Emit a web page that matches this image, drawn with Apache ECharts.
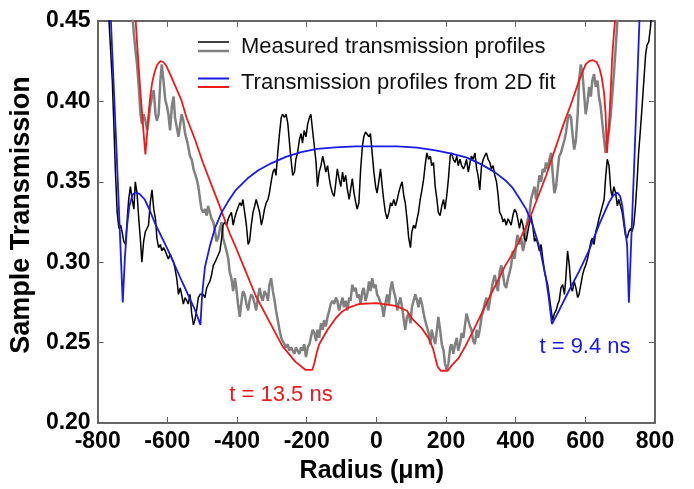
<!DOCTYPE html>
<html>
<head>
<meta charset="utf-8">
<script src="https://cdn.jsdelivr.net/npm/echarts@6/dist/echarts.min.js"></script>
<style>
html,body{margin:0;padding:0;background:#fff;}
#chart{width:694px;height:489px;}
</style>
</head>
<body>
<div id="chart"></div>
<script>
// ---- Data (x in µm, y = sample transmission) ----
const xMin = -800, xMax = 800, xStep = 200;
const yMin = 0.20, yMax = 0.45, yStep = 0.05;

const blackMeasured = [
[-770,0.46],[-758,0.413],[-753,0.382],[-749,0.356],[-744,0.331],[-739,0.321],[-734,0.323],[-730,0.319],[-725,0.313],[-720,0.311],[-715,0.327],[-711,0.339],[-706,0.347],[-701,0.339],[-696,0.333],[-692,0.350],[-687,0.343],[-682,0.327],[-677,0.313],[-673,0.300],[-668,0.313],[-663,0.319],[-658,0.319],[-654,0.323],[-649,0.337],[-644,0.345],[-639,0.333],[-634,0.327],[-630,0.315],[-625,0.309],[-620,0.311],[-616,0.307],[-611,0.309],[-606,0.307],[-601,0.308],[-597,0.302],[-592,0.305],[-587,0.305],[-582,0.300],[-578,0.296],[-573,0.290],[-568,0.280],[-563,0.284],[-559,0.280],[-554,0.274],[-549,0.278],[-544,0.276],[-540,0.274],[-535,0.280],[-530,0.268],[-525,0.261],[-521,0.264],[-516,0.270],[-511,0.278],[-506,0.280],[-502,0.281],[-497,0.280],[-492,0.278],[-487,0.284],[-483,0.286],[-478,0.288],[-473,0.292],[-468,0.298],[-463,0.300],[-459,0.302],[-454,0.301],[-449,0.307],[-444,0.315],[-440,0.323],[-435,0.325],[-430,0.323],[-425,0.327],[-421,0.329],[-416,0.331],[-411,0.323],
[-406,0.328],[-402,0.331],[-397,0.334],[-392,0.337],[-387,0.335],[-383,0.339],[-378,0.331],[-373,0.323],[-368,0.311],[-364,0.313],[-359,0.323],[-354,0.331],[-349,0.335],[-345,0.339],[-340,0.339],[-335,0.331],[-330,0.323],[-326,0.327],[-321,0.333],[-316,0.337],[-311,0.339],[-307,0.343],[-302,0.350],[-297,0.356],[-292,0.358],[-288,0.354],[-283,0.368],[-278,0.380],[-273,0.390],[-269,0.392],[-264,0.390],[-259,0.392],[-254,0.386],[-250,0.376],[-245,0.364],[-240,0.354],[-235,0.356],[-231,0.364],[-226,0.368],[-221,0.376],[-216,0.380],[-212,0.374],[-207,0.382],[-202,0.378],[-197,0.386],[-192,0.390],[-188,0.392],[-183,0.382],[-178,0.372],[-173,0.362],[-169,0.347],[-164,0.356],[-159,0.360],[-154,0.366],[-150,0.362],[-145,0.356],[-140,0.360],[-135,0.352],[-131,0.347],[-126,0.343],[-121,0.341],[-116,0.350],[-112,0.358],[-107,0.352],[-102,0.347],[-97,0.356],[-93,0.350],[-88,0.354],[-83,0.345],[-78,0.339],[-74,0.345],[-69,0.352],[-64,0.343],[-59,0.337],[-55,0.333],[-50,0.337],[-45,0.358],[-40,0.372],[-36,0.378],[-31,0.381],[-26,0.380],[-21,0.378],[-17,0.380],[-12,0.368],[-7,0.356],[-2,0.347],[2,0.343],[7,0.350],
[12,0.358],[17,0.347],[21,0.339],[26,0.331],[31,0.327],[36,0.331],[41,0.337],[45,0.335],[50,0.339],[55,0.335],[60,0.339],[64,0.343],[69,0.347],[74,0.350],[79,0.341],[83,0.337],[88,0.327],[93,0.315],[98,0.309],[102,0.319],[107,0.323],[112,0.321],[117,0.327],[121,0.331],[126,0.339],[131,0.345],[136,0.352],[140,0.360],[145,0.368],[150,0.364],[155,0.366],[159,0.360],[164,0.362],[169,0.347],[174,0.339],[178,0.331],[183,0.329],[188,0.335],[193,0.339],[197,0.333],[202,0.341],[207,0.352],[212,0.366],[216,0.368],[221,0.364],[226,0.362],[231,0.366],[235,0.360],[240,0.364],[245,0.360],[250,0.358],[254,0.360],[259,0.364],[264,0.356],[269,0.362],[273,0.366],[278,0.364],[283,0.368],[288,0.358],[292,0.354],[297,0.345],[302,0.360],[307,0.364],[311,0.366],[316,0.368],[321,0.364],[326,0.362],[330,0.358],[335,0.360],[340,0.354],[345,0.350],[349,0.343],[354,0.331],[359,0.329],[364,0.325],[368,0.327],[373,0.323],[378,0.327],[383,0.325],[387,0.323],[392,0.329],[397,0.333],[402,0.331],[406,0.327],
[411,0.321],[416,0.327],[421,0.323],[425,0.315],[430,0.313],[435,0.319],[440,0.325],[444,0.329],[449,0.323],[454,0.313],[459,0.315],[464,0.311],[468,0.307],[473,0.311],[478,0.302],[483,0.294],[487,0.290],[492,0.286],[497,0.278],[502,0.270],[506,0.264],[511,0.268],[516,0.270],[521,0.274],[525,0.276],[530,0.284],[535,0.286],[540,0.280],[544,0.290],[549,0.307],[554,0.298],[559,0.284],[563,0.282],[568,0.288],[573,0.284],[578,0.278],[582,0.280],[587,0.286],[592,0.292],[597,0.296],[601,0.298],[606,0.302],[611,0.307],[616,0.313],[620,0.315],[625,0.311],[630,0.319],[635,0.323],[639,0.327],[644,0.331],[649,0.335],[654,0.339],[658,0.352],[663,0.364],[668,0.360],[673,0.345],[677,0.341],[682,0.347],[687,0.343],[692,0.335],[696,0.339],[701,0.335],[706,0.331],[711,0.323],[715,0.317],[720,0.315],[725,0.319],[730,0.321],[734,0.319],[739,0.323],[744,0.335],[749,0.352],[753,0.368],[758,0.382],[763,0.397],[768,0.413],[773,0.429],[777,0.435],[782,0.437],[787,0.446],[792,0.46]
];

const grayMeasured = [
[-703,0.46],[-696,0.442],[-692,0.433],[-687,0.423],[-682,0.409],[-677,0.392],[-673,0.386],[-668,0.392],[-663,0.388],[-658,0.382],[-654,0.388],[-649,0.397],[-644,0.403],[-639,0.407],[-634,0.392],[-630,0.388],[-625,0.392],[-620,0.413],[-616,0.423],[-611,0.413],[-606,0.401],[-601,0.397],[-597,0.392],[-592,0.382],[-587,0.397],[-582,0.403],[-578,0.390],[-573,0.384],[-568,0.378],[-563,0.386],[-559,0.392],[-554,0.388],[-549,0.380],[-544,0.376],[-540,0.372],[-535,0.366],[-530,0.364],[-525,0.358],[-521,0.358],[-516,0.352],[-511,0.347],[-506,0.339],[-502,0.333],[-497,0.331],[-492,0.333],[-487,0.329],[-483,0.335],[-478,0.331],[-473,0.327],[-468,0.325],[-463,0.319],[-459,0.313],[-454,0.315],[-449,0.321],[-444,0.325],[-440,0.315],[-435,0.311],[-430,0.307],[-425,0.302],[-421,0.294],[-416,0.290],[-411,0.282],
[-406,0.290],[-402,0.284],[-397,0.274],[-392,0.266],[-387,0.276],[-383,0.282],[-378,0.280],[-373,0.274],[-368,0.270],[-364,0.276],[-359,0.280],[-354,0.278],[-349,0.274],[-345,0.270],[-340,0.278],[-335,0.284],[-330,0.278],[-326,0.276],[-321,0.282],[-316,0.280],[-311,0.276],[-307,0.286],[-302,0.290],[-297,0.282],[-292,0.276],[-288,0.270],[-283,0.264],[-278,0.258],[-273,0.253],[-269,0.251],[-264,0.249],[-259,0.247],[-254,0.249],[-250,0.245],[-245,0.247],[-240,0.245],[-235,0.243],[-231,0.247],[-226,0.245],[-221,0.243],[-216,0.247],[-212,0.245],[-207,0.249],[-202,0.241],[-197,0.247],[-192,0.249],[-188,0.253],[-183,0.258],[-178,0.256],[-173,0.251],[-169,0.258],[-164,0.253],[-159,0.262],[-154,0.258],[-150,0.264],[-145,0.260],[-140,0.266],[-135,0.270],[-131,0.274],[-126,0.276],[-121,0.274],[-116,0.278],[-112,0.276],[-107,0.270],[-102,0.274],[-97,0.278],[-93,0.272],[-88,0.276],[-83,0.270],[-78,0.278],[-74,0.276],[-69,0.286],[-64,0.282],[-59,0.284],[-55,0.278],[-50,0.280],[-45,0.274],[-40,0.282],[-36,0.284],[-31,0.276],[-26,0.280],[-21,0.288],[-17,0.282],[-12,0.290],[-7,0.284],[-2,0.286],[2,0.280],[7,0.278],
[12,0.278],[17,0.272],[21,0.266],[26,0.274],[31,0.280],[36,0.274],[41,0.284],[45,0.288],[50,0.282],[55,0.278],[60,0.270],[64,0.274],[69,0.278],[74,0.272],[79,0.264],[83,0.258],[88,0.266],[93,0.268],[98,0.262],[102,0.272],[107,0.276],[112,0.280],[117,0.276],[121,0.272],[126,0.278],[131,0.274],[136,0.268],[140,0.264],[145,0.260],[150,0.256],[155,0.249],[159,0.258],[164,0.253],[169,0.249],[174,0.258],[178,0.266],[183,0.258],[188,0.249],[193,0.245],[197,0.237],[202,0.233],[207,0.237],[212,0.247],[216,0.249],[221,0.243],[226,0.249],[231,0.253],[235,0.245],[240,0.249],[245,0.256],[250,0.253],[254,0.260],[259,0.268],[264,0.264],[269,0.260],[273,0.258],[278,0.251],[283,0.249],[288,0.258],[292,0.253],[297,0.258],[302,0.266],[307,0.270],[311,0.274],[316,0.278],[321,0.270],[326,0.276],[330,0.282],[335,0.288],[340,0.292],[345,0.286],[349,0.282],[354,0.294],[359,0.298],[364,0.292],[368,0.286],[373,0.284],[378,0.290],[383,0.294],[387,0.298],[392,0.307],[397,0.302],[402,0.313],[406,0.317],
[411,0.311],[416,0.315],[421,0.307],[425,0.311],[430,0.321],[435,0.327],[440,0.331],[444,0.339],[449,0.343],[454,0.347],[459,0.339],[464,0.347],[468,0.354],[473,0.350],[478,0.358],[483,0.356],[487,0.362],[492,0.358],[497,0.364],[502,0.368],[506,0.356],[511,0.343],[516,0.347],[521,0.358],[525,0.366],[530,0.368],[535,0.372],[540,0.376],[544,0.380],[549,0.388],[554,0.392],[559,0.390],[563,0.380],[568,0.370],[573,0.376],[578,0.392],[582,0.413],[587,0.423],[592,0.417],[597,0.403],[601,0.392],[606,0.399],[611,0.409],[616,0.403],[620,0.413],[625,0.417],[630,0.409],[635,0.413],[639,0.403],[644,0.397],[649,0.386],[654,0.376],[658,0.368],[663,0.376],[668,0.382],[673,0.392],[677,0.403],[682,0.417],[687,0.433],[692,0.45],[694,0.46]
];

const blueFit = [
[-766,0.47],[-746,0.37],[-728,0.275],[-722,0.302],[-716,0.322],[-709,0.335],[-700,0.342],[-692,0.3434],[-680,0.3425],[-665,0.339],[-650,0.332],[-635,0.324],[-597,0.307],[-558,0.288],[-520,0.270],[-505,0.261],[-500,0.280],[-492,0.297],[-478,0.310],[-462,0.322],[-444,0.331],[-425,0.338],[-403,0.345],[-370,0.352],[-340,0.357],[-302,0.3615],[-260,0.3655],[-216,0.3685],[-170,0.3705],[-117,0.3714],[-60,0.372],[0,0.372],
[60,0.372],[117,0.3712],[170,0.3695],[216,0.3675],[260,0.365],[300,0.361],[340,0.356],[370,0.351],[392,0.346],[406,0.3413],[430,0.333],[449,0.3229],[470,0.308],[487,0.290],[495,0.278],[504,0.2616],[520,0.268],[550,0.281],[582,0.2943],[610,0.307],[639,0.323],[655,0.331],[668,0.3372],[680,0.3415],[692,0.3434],[700,0.341],[706,0.3352],[713,0.322],[720,0.3107],[725,0.2748],[741,0.365],[756,0.454],[759,0.47]
];

const redFit = [
[-697,0.47],[-692,0.454],[-685,0.43],[-677,0.405],[-668,0.38],[-663,0.367],[-658,0.38],[-654,0.392],[-649,0.403],[-644,0.411],[-638,0.417],[-630,0.4225],[-620,0.425],[-612,0.4245],[-604,0.4225],[-592,0.417],[-578,0.410],[-560,0.401],[-545,0.390],[-520,0.376],[-498,0.362],[-475,0.349],[-450,0.335],[-421,0.318],[-403,0.309],[-384,0.299],[-346,0.279],[-307,0.263],[-270,0.248],[-232,0.238],[-203,0.233],[-184,0.233],[-178,0.237],[-172,0.243],[-164,0.249],[-155,0.2524],[-140,0.258],[-118,0.2647],[-100,0.269],[-79,0.2718],[-50,0.274],[0,0.2745],
[56,0.2728],[88,0.2698],[103,0.2647],[130,0.259],[151,0.2524],[163,0.246],[170,0.240],[176,0.235],[185,0.2325],[205,0.2325],[217,0.236],[235,0.240],[255,0.2475],[275,0.256],[293,0.264],[313,0.273],[331,0.281],[350,0.289],[369,0.2974],[390,0.305],[407,0.3117],[440,0.327],[487,0.3536],[535,0.3843],[560,0.399],[582,0.4129],[601,0.423],[612,0.4252],[622,0.4256],[632,0.4245],[640,0.421],[647,0.415],[654,0.405],[658,0.3925],[662,0.368],[668,0.386],[673,0.407],[677,0.427],[682,0.442],[687,0.454],[690,0.47]
];

const legendLabels = ['Measured transmission profiles', 'Transmission profiles from 2D fit'];
const annotations = ['t = 13.5 ns', 't = 9.4 ns'];
const xTitle = 'Radius (\u03bcm)';
const yTitle = 'Sample Transmission';

// ---- Chart ----
const chart = echarts.init(document.getElementById('chart'), null, {renderer: 'canvas'});
const FONT = '"Liberation Sans", Arial, Helvetica, sans-serif';
const frame = {show: true, onZero: false, lineStyle: {color: '#333', width: 1.5}};
const tick = {show: true, inside: true, length: 6, lineStyle: {color: '#666', width: 1}};
const tickLabel = {color: '#000', fontFamily: FONT, fontWeight: 'bold', fontSize: 23};

const lineSeries = (name, data, color, width, z) => ({
  name, type: 'line', data, showSymbol: false, symbol: 'none', clip: true,
  lineStyle: {color, width}, itemStyle: {color}, z, animation: false
});

chart.setOption({
  animation: false,
  grid: {left: 94, right: 39, top: 21, bottom: 61, containLabel: false},
  xAxis: [
    {type: 'value', min: xMin, max: xMax, interval: xStep, position: 'bottom',
     axisLine: frame, axisTick: tick, splitLine: {show: false},
     axisLabel: Object.assign({margin: 7}, tickLabel),
     name: xTitle, nameLocation: 'middle', nameGap: 36,
     nameTextStyle: {color: '#000', fontFamily: FONT, fontWeight: 'bold', fontSize: 25, padding: [0, 9, 0, 0]}},
    {type: 'value', min: xMin, max: xMax, interval: xStep, position: 'top',
     axisLine: frame, axisTick: tick, splitLine: {show: false}, axisLabel: {show: false}}
  ],
  yAxis: [
    {type: 'value', min: yMin, max: yMax, interval: yStep, position: 'left',
     axisLine: frame, axisTick: tick, splitLine: {show: false},
     axisLabel: Object.assign({margin: 7, formatter: v => v.toFixed(2)}, tickLabel),
     name: yTitle, nameLocation: 'middle', nameGap: 59, nameRotate: 90,
     nameTextStyle: {color: '#000', fontFamily: FONT, fontWeight: 'bold', fontSize: 27, padding: [0, 0, 0, 14]}},
    {type: 'value', min: yMin, max: yMax, interval: yStep, position: 'right',
     axisLine: frame, axisTick: tick, splitLine: {show: false}, axisLabel: {show: false}}
  ],
  series: [
    lineSeries('t13.5 measured', grayMeasured, '#808080', 2.5, 2),
    lineSeries('t9.4 measured', blackMeasured, '#000000', 1.5, 3),
    lineSeries('t13.5 fit', redFit, '#ee1a1a', 1.8, 4),
    lineSeries('t9.4 fit', blueFit, '#1a1ae8', 1.8, 5)
  ],
  graphic: [
    {type: 'line', shape: {x1: 198, y1: 42, x2: 229, y2: 42}, style: {stroke: '#000', lineWidth: 1.5}},
    {type: 'line', shape: {x1: 198, y1: 51, x2: 229, y2: 51}, style: {stroke: '#808080', lineWidth: 2.5}},
    {type: 'text', x: 241, y: 47, style: {text: legendLabels[0], font: '22px ' + FONT, fill: '#111', verticalAlign: 'middle'}},
    {type: 'line', shape: {x1: 198, y1: 78.5, x2: 229, y2: 78.5}, style: {stroke: '#1a1ae8', lineWidth: 2}},
    {type: 'line', shape: {x1: 198, y1: 87, x2: 229, y2: 87}, style: {stroke: '#ee1a1a', lineWidth: 2}},
    {type: 'text', x: 241, y: 82.5, style: {text: legendLabels[1], font: '22px ' + FONT, fill: '#111', verticalAlign: 'middle'}},
    {type: 'text', x: 281, y: 395, style: {text: annotations[0], font: '22px ' + FONT, fill: '#ee1a1a', align: 'center', verticalAlign: 'middle'}},
    {type: 'text', x: 585, y: 347, style: {text: annotations[1], font: '22px ' + FONT, fill: '#1a1ae8', align: 'center', verticalAlign: 'middle'}}
  ]
});
</script>
</body>
</html>
